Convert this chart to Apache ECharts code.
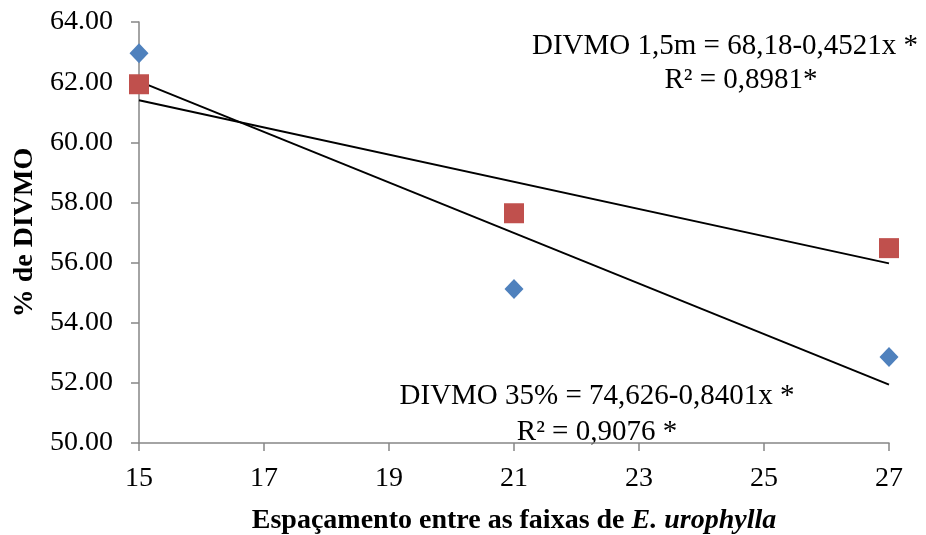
<!DOCTYPE html>
<html><head><meta charset="utf-8">
<script src="https://cdn.jsdelivr.net/npm/echarts@6/dist/echarts.min.js"></script>
<style>html,body{margin:0;padding:0;background:#fff}#c{width:926px;height:535px}</style>
</head><body><div id="c"></div>
<script>
const xValues = [15, 21, 27];
const divmo35 = [62.96, 55.12, 52.86];
const divmo15m = [61.93, 57.64, 56.48];
const fit35 = [74.626, -0.8401];
const fit15m = [68.18, -0.4521];
const xTicks = [15, 17, 19, 21, 23, 25, 27];
const yTicks = [50, 52, 54, 56, 58, 60, 62, 64];
const eq15m = ['DIVMO 1,5m = 68,18-0,4521x *', 'R² = 0,8981*'];
const eq35 = ['DIVMO 35% = 74,626-0,8401x *', 'R² = 0,9076 *'];

const FONT = '"Liberation Serif", "Times New Roman", serif';
const pts = (ys) => xValues.map((x, i) => [x, ys[i]]);
const fitLine = (c) => [xValues[0], xValues[xValues.length - 1]].map(x => [x, c[0] + c[1] * x]);

const chart = echarts.init(document.getElementById('c'));
const axisLine = { show: true, lineStyle: { color: '#868686', width: 1.5 } };
chart.setOption({
  animation: false,
  grid: { left: 139, right: 37, top: 22, bottom: 92, containLabel: false, outerBoundsMode: 'none' },
  xAxis: {
    type: 'value', min: xTicks[0], max: xTicks[xTicks.length - 1], interval: 2,
    axisLine: axisLine,
    axisTick: { show: true, length: 8, lineStyle: { color: '#868686', width: 1.5 } },
    splitLine: { show: false },
    axisLabel: { color: '#000', fontFamily: FONT, fontSize: 28, margin: 22 },
    name: '{b|Espaçamento entre as faixas de }{bi|E. urophylla}',
    nameLocation: 'middle', nameGap: 64,
    nameTextStyle: {
      rich: {
        b: { fontFamily: FONT, fontSize: 28, fontWeight: 'bold', color: '#000' },
        bi: { fontFamily: FONT, fontSize: 28, fontWeight: 'bold', fontStyle: 'italic', color: '#000' }
      }
    }
  },
  yAxis: {
    type: 'value', min: yTicks[0], max: yTicks[yTicks.length - 1], interval: 2,
    axisLine: axisLine,
    axisTick: { show: true, length: 8, lineStyle: { color: '#868686', width: 1.5 } },
    splitLine: { show: false },
    axisLabel: { color: '#000', fontFamily: FONT, fontSize: 28, margin: 26, formatter: v => v.toFixed(2) },
    name: '% de DIVMO', nameLocation: 'middle', nameGap: 100,
    nameTextStyle: { fontFamily: FONT, fontSize: 28, fontWeight: 'bold', color: '#000' }
  },
  series: [
    { type: 'line', data: fitLine(fit15m), symbol: 'none', lineStyle: { color: '#000', width: 2 }, z: 1 },
    { type: 'line', data: fitLine(fit35), symbol: 'none', lineStyle: { color: '#000', width: 2 }, z: 1 },
    { type: 'scatter', data: pts(divmo35), symbol: 'diamond', symbolSize: [19, 20], itemStyle: { color: '#4F81BD', opacity: 1 }, z: 3 },
    { type: 'scatter', data: pts(divmo15m), symbol: 'rect', symbolSize: 20, itemStyle: { color: '#C0504D', opacity: 1 }, z: 2 }
  ],
  graphic: [
    { type: 'text', x: 725, y: 46, style: { text: eq15m[0], font: '29px ' + FONT, fill: '#000', textAlign: 'center', textVerticalAlign: 'middle' } },
    { type: 'text', x: 741, y: 80, style: { text: eq15m[1], font: '29px ' + FONT, fill: '#000', textAlign: 'center', textVerticalAlign: 'middle' } },
    { type: 'text', x: 597, y: 396, style: { text: eq35[0], font: '29px ' + FONT, fill: '#000', textAlign: 'center', textVerticalAlign: 'middle' } },
    { type: 'text', x: 597, y: 432, style: { text: eq35[1], font: '29px ' + FONT, fill: '#000', textAlign: 'center', textVerticalAlign: 'middle' } }
  ]
});
</script></body></html>
